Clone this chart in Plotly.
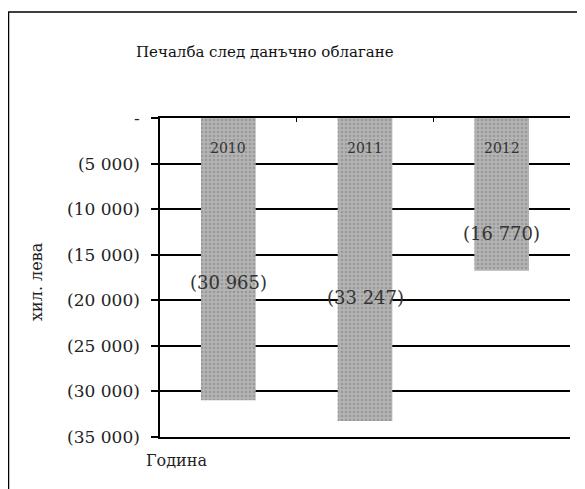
import plotly.graph_objects as go

years = ["2010", "2011", "2012"]
profit = [-30965, -33247, -16770]
label_text = ["(30 965)", "(33 247)", "(16 770)"]
label_y = [-18100, -19700, -12700]
tick_vals = [0, -5000, -10000, -15000, -20000, -25000, -30000, -35000]
tick_text = ["-", "(5 000)", "(10 000)", "(15 000)", "(20 000)", "(25 000)", "(30 000)", "(35 000)"]

FONT = "DejaVu Serif"

fig = go.Figure()
fig.add_trace(go.Bar(
    x=years, y=profit, width=0.4,
    marker=dict(color="#adadad", line=dict(width=0),
                pattern=dict(shape=".", fgcolor="#7d7d7d", bgcolor="#b4b4b4", size=4, solidity=0.35)),
    hoverinfo="skip",
))

annotations = []
for i, (yr, t, ly) in enumerate(zip(years, label_text, label_y)):
    annotations.append(dict(x=i, y=ly, text=t, showarrow=False, xref="x", yref="y",
                            xanchor="center",
                            font=dict(family=FONT, size=18, color="#333333")))
    annotations.append(dict(x=i, y=0, text=yr, showarrow=False, xref="x", yref="y",
                            xanchor="center", yanchor="top", yshift=-20,
                            font=dict(family=FONT, size=14, color="#333333")))

annotations.append(dict(x=-0.300, y=0.486, xref="paper", yref="paper", text="хил. лева",
                        textangle=-90, showarrow=False, xanchor="center", yanchor="middle",
                        font=dict(family=FONT, size=16, color="#222222")))
annotations.append(dict(x=0.041, y=-0.075, xref="paper", yref="paper", text="Година",
                        showarrow=False, xanchor="center", yanchor="middle",
                        font=dict(family=FONT, size=16, color="#222222")))

fig.update_layout(
    width=585, height=489,
    margin=dict(l=152, r=23, t=110, b=60),
    paper_bgcolor="white", plot_bgcolor="white",
    showlegend=False,
    title=dict(text="Печалба след данъчно облагане", x=0.439, y=0.910, xanchor="center",
               yanchor="middle", xref="container", yref="container",
               font=dict(family=FONT, size=15, color="#111111")),
    annotations=annotations,
    shapes=[dict(type="rect", xref="paper", yref="paper", x0=-0.3695, y0=-0.3,
                 x1=1.2, y1=1.332, line=dict(color="black", width=1.5))],
)
fig.update_xaxes(type="category", range=[-0.5, 2.5], side="top", showticklabels=False,
                 ticks="inside", tickson="boundaries", ticklen=4, tickcolor="black",
                 showline=True, mirror=True, linecolor="black", linewidth=1.5,
                 showgrid=False, zeroline=False)
fig.update_yaxes(range=[-35000, 0], tickvals=tick_vals, ticktext=tick_text,
                 ticks="outside", ticklen=7, tickcolor="black", tickwidth=1.5,
                 ticklabelstandoff=8,
                 tickfont=dict(family=FONT, size=17, color="#222222"),
                 showgrid=True, gridcolor="black", gridwidth=1.5,
                 showline=True, linecolor="black", linewidth=1.5, zeroline=False)

fig.write_html("out.html")
